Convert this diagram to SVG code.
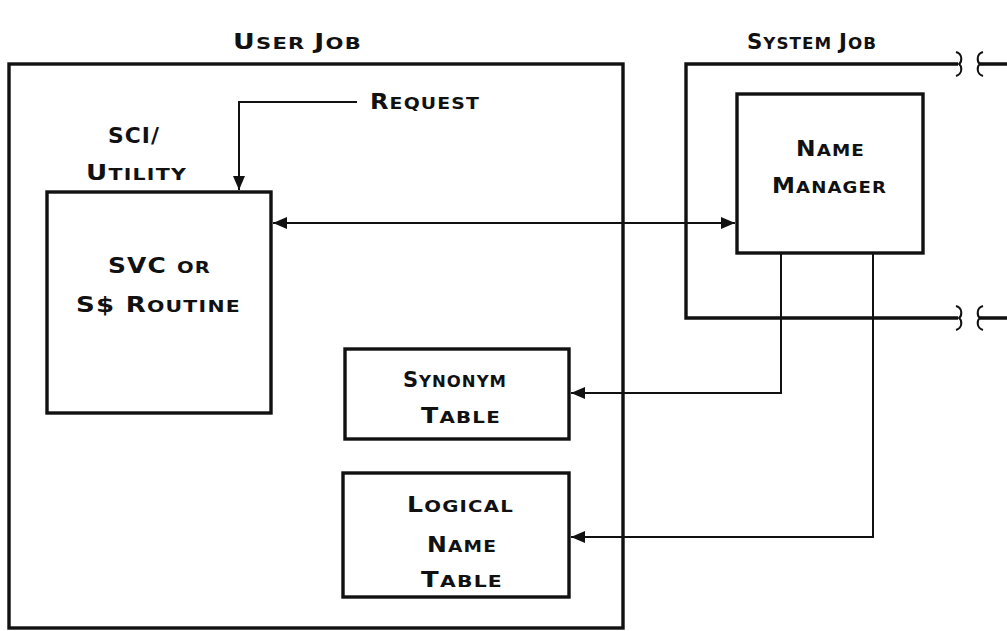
<svg xmlns="http://www.w3.org/2000/svg" width="1007" height="631" viewBox="0 0 1007 631">
<style>
.box{fill:none;stroke:#111;stroke-width:3.4}
.con{fill:none;stroke:#111;stroke-width:2}
.brk{fill:none;stroke:#111;stroke-width:2}
text{font-family:"DejaVu Sans","Liberation Sans",sans-serif;font-weight:bold;fill:#111;letter-spacing:1px}
.b{font-size:21px}
.s{font-size:16.5px}
</style>
<defs>
<marker id="ah" viewBox="0 0 14 12" refX="14" refY="6" markerWidth="14" markerHeight="12" markerUnits="userSpaceOnUse" orient="auto-start-reverse">
<path d="M0,0 L14,6 L0,12 Z" fill="#111"/>
</marker>
</defs>
<rect width="1007" height="631" fill="#fff"/>

<g id="titles">
<text x="233" y="49" textLength="129" lengthAdjust="spacingAndGlyphs"><tspan class="b">U</tspan><tspan class="s">SER </tspan><tspan class="b">J</tspan><tspan class="s">OB</tspan></text>
<text x="747" y="49" textLength="130" lengthAdjust="spacingAndGlyphs"><tspan class="b">S</tspan><tspan class="s">YSTEM </tspan><tspan class="b">J</tspan><tspan class="s">OB</tspan></text>
</g>

<g id="user-job">
<rect class="box" x="9" y="64" width="614" height="564"/>
</g>

<g id="system-job">
<path class="box" d="M958,64 H686 V318 H958"/>
<path class="box" d="M980,64 H1007 M980,318 H1007"/>
<path class="brk" d="M956,52 C963,54 962,62 959,64 C962,66 963,74 956,76"/>
<path class="brk" d="M983,52 C976,54 977,62 980,64 C977,66 976,74 983,76"/>
<path class="brk" d="M956,306 C963,308 962,316 959,318 C962,320 963,328 956,330"/>
<path class="brk" d="M983,306 C976,308 977,316 980,318 C977,320 976,328 983,330"/>
</g>

<g id="sci-label">
<text class="b" x="108" y="143" textLength="52" lengthAdjust="spacingAndGlyphs">SCI/</text>
<text x="86" y="180" textLength="101" lengthAdjust="spacingAndGlyphs"><tspan class="b">U</tspan><tspan class="s">TILITY</tspan></text>
</g>

<g id="request-label">
<text x="370" y="109" textLength="110" lengthAdjust="spacingAndGlyphs"><tspan class="b">R</tspan><tspan class="s">EQUEST</tspan></text>
</g>

<g id="svc-routine">
<rect class="box" x="47" y="192" width="224" height="221"/>
<text x="108" y="273" textLength="103" lengthAdjust="spacingAndGlyphs"><tspan class="b">SVC </tspan><tspan class="s">OR</tspan></text>
<text x="76" y="312" textLength="165" lengthAdjust="spacingAndGlyphs"><tspan class="b">S$ R</tspan><tspan class="s">OUTINE</tspan></text>
</g>

<g id="name-manager">
<rect class="box" x="737" y="94" width="186" height="159"/>
<text x="796" y="156" textLength="69" lengthAdjust="spacingAndGlyphs"><tspan class="b">N</tspan><tspan class="s">AME</tspan></text>
<text x="772" y="193" textLength="115" lengthAdjust="spacingAndGlyphs"><tspan class="b">M</tspan><tspan class="s">ANAGER</tspan></text>
</g>

<g id="synonym-table">
<rect class="box" x="345" y="349" width="224" height="90"/>
<text x="403" y="387" textLength="104" lengthAdjust="spacingAndGlyphs"><tspan class="b">S</tspan><tspan class="s">YNONYM</tspan></text>
<text x="421" y="423" textLength="80" lengthAdjust="spacingAndGlyphs"><tspan class="b">T</tspan><tspan class="s">ABLE</tspan></text>
</g>

<g id="logical-name-table">
<rect class="box" x="343" y="473" width="226" height="124"/>
<text x="407" y="512" textLength="107" lengthAdjust="spacingAndGlyphs"><tspan class="b">L</tspan><tspan class="s">OGICAL</tspan></text>
<text x="427" y="552" textLength="70" lengthAdjust="spacingAndGlyphs"><tspan class="b">N</tspan><tspan class="s">AME</tspan></text>
<text x="421" y="587" textLength="82" lengthAdjust="spacingAndGlyphs"><tspan class="b">T</tspan><tspan class="s">ABLE</tspan></text>
</g>

<g id="connectors">
<path class="con" d="M357,102 H239 V190" marker-end="url(#ah)"/>
<path class="con" d="M273,223 H735" marker-start="url(#ah)" marker-end="url(#ah)"/>
<path class="con" d="M781,254 V393 H571" marker-end="url(#ah)"/>
<path class="con" d="M873,254 V537 H571" marker-end="url(#ah)"/>
</g>
</svg>
